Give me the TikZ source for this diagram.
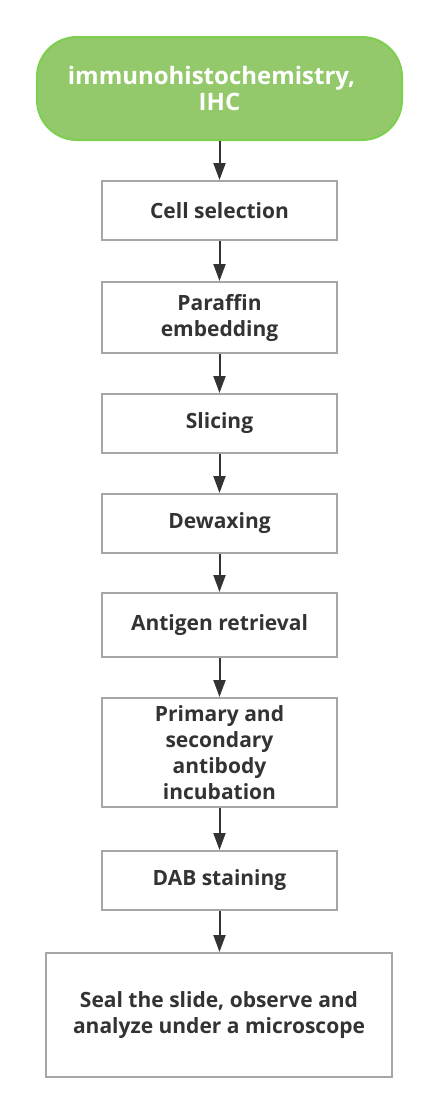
\documentclass[tikz,border=0pt]{standalone}
\usepackage{fontspec}
\setmainfont{Open Sans}
\usetikzlibrary{arrows.meta}
\definecolor{gfill}{HTML}{93C86B}
\definecolor{gline}{HTML}{7DD04F}
\definecolor{bline}{HTML}{A6A6A6}
\definecolor{txt}{HTML}{333333}
\tikzset{
  stepbox/.style={draw=bline, line width=2pt, fill=white, rectangle, align=center,
    font=\fontsize{21}{26}\selectfont\bfseries, text=txt, inner sep=0pt},
  startbox/.style={draw=gline, line width=2pt, fill=gfill, rounded corners=40pt, align=center,
    font=\fontsize{24}{26}\selectfont\bfseries, text=white, inner sep=0pt,
    minimum width=365pt, minimum height=103pt},
  arr/.style={draw=txt, line width=2pt, -{Triangle[length=17pt,width=12pt]}}
}
\begin{document}
\begin{tikzpicture}[x=1pt,y=-1pt]
\useasboundingbox (0,0) rectangle (438,1114);
\node[startbox] (n0) at (219.5,88.5) {immunohistochemistry,\hspace*{16pt}\\IHC};
\node[stepbox, minimum width=235pt, minimum height=59pt] (n1) at (219.5,210.5) {Cell selection};
\node[stepbox, minimum width=235pt, minimum height=71pt] (n2) at (219.5,317.5) {Paraffin\\embedding};
\node[stepbox, minimum width=235pt, minimum height=59pt] (n3) at (219.5,423.5) {Slicing};
\node[stepbox, minimum width=235pt, minimum height=59pt] (n4) at (219.5,523.5) {Dewaxing};
\node[stepbox, minimum width=235pt, minimum height=64pt] (n5) at (219.5,625) {Antigen retrieval};
\node[stepbox, minimum width=235pt, minimum height=109pt] (n6) at (219.5,752.5) {Primary and\\secondary\\antibody\\incubation};
\node[stepbox, minimum width=235pt, minimum height=59pt] (n7) at (219.5,880.5) {DAB staining};
\node[stepbox, minimum width=346pt, minimum height=124pt] (n8) at (219,1015) {Seal the slide, observe and\\analyze under a microscope};
\draw[arr] (n0.south -| 219.5,0) -- (n1.north -| 219.5,0);
\draw[arr] (n1) -- (n2);
\draw[arr] (n2) -- (n3);
\draw[arr] (n3) -- (n4);
\draw[arr] (n4) -- (n5);
\draw[arr] (n5) -- (n6);
\draw[arr] (n6) -- (n7);
\draw[arr] (n7) -- (n8.north -| n7.south);
\end{tikzpicture}
\end{document}
